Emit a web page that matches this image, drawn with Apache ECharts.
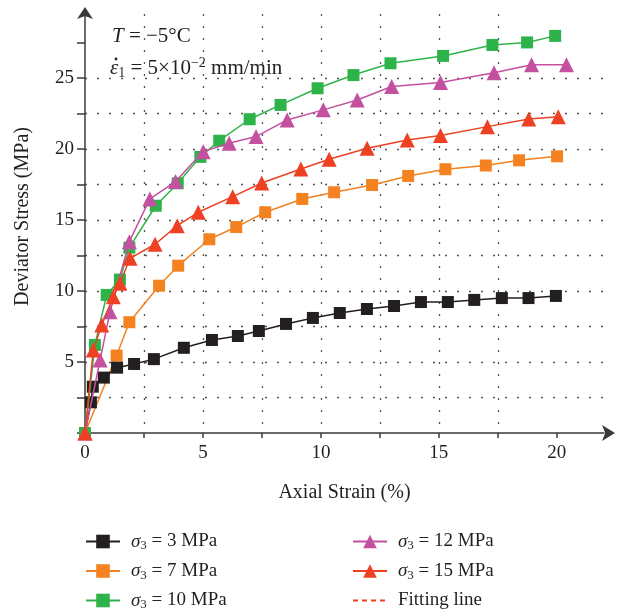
<!DOCTYPE html>
<html>
<head>
<meta charset="utf-8">
<script src="https://cdn.jsdelivr.net/npm/echarts@6/dist/echarts.min.js"></script>
<style>
html,body{margin:0;padding:0;background:#fff;}
#chart{width:618px;height:614px;}
</style>
</head>
<body>
<div id="chart"></div>
<script>
// ---- data (x: axial strain %, y: deviator stress MPa) ----
const seriesNames = ['σ3 = 3 MPa', 'σ3 = 7 MPa', 'σ3 = 10 MPa', 'σ3 = 12 MPa', 'σ3 = 15 MPa', 'Fitting line'];
const s3 = [[0,0],[0.25,2.16],[0.33,3.26],[0.8,3.9],[1.36,4.6],[2.08,4.86],[2.92,5.2],[4.19,6.0],[5.38,6.55],[6.48,6.83],[7.37,7.18],[8.52,7.68],[9.66,8.1],[10.8,8.45],[11.95,8.73],[13.1,8.94],[14.24,9.22],[15.38,9.22],[16.5,9.37],[17.67,9.5],[18.8,9.5],[19.96,9.65]];
const s7 = [[0,0],[1.34,5.45],[1.88,7.8],[3.14,10.37],[3.95,11.78],[5.27,13.64],[6.41,14.5],[7.64,15.54],[9.21,16.48],[10.56,16.95],[12.17,17.46],[13.7,18.1],[15.28,18.57],[16.99,18.83],[18.4,19.2],[20.01,19.48]];
const s10 = [[0,0],[0.42,6.2],[0.92,9.72],[1.48,10.8],[1.88,13.05],[3.0,16.0],[3.93,17.58],[4.89,19.44],[5.69,20.58],[6.98,22.09],[8.29,23.1],[9.86,24.27],[11.38,25.2],[12.95,26.03],[15.18,26.55],[17.27,27.32],[18.74,27.5],[19.93,27.96]];
const s12 = [[0,0],[0.64,5.14],[1.06,8.54],[1.88,13.47],[2.75,16.48],[3.84,17.7],[5.01,19.81],[6.11,20.4],[7.25,20.87],[8.57,22.04],[10.1,22.75],[11.54,23.45],[13.0,24.4],[15.07,24.67],[17.34,25.37],[18.93,25.92],[20.41,25.92]];
const s15 = [[0,0],[0.35,5.84],[0.71,7.6],[1.2,9.6],[1.48,10.54],[1.91,12.3],[2.97,13.29],[3.91,14.6],[4.8,15.54],[6.26,16.64],[7.49,17.6],[9.15,18.59],[10.35,19.27],[11.96,20.05],[13.66,20.63],[15.07,20.94],[17.06,21.57],[18.81,22.11],[20.06,22.27]];
const fitting = [];
const xTicks = [0,2.5,5,7.5,10,12.5,15,17.5,20];
const xLabels = [0,5,10,15,20];
const yTicks = [0,2.5,5,7.5,10,12.5,15,17.5,20,22.5,25,27.5];
const yLabels = [5,10,15,20,25];

const FONT = '"Liberation Serif", "DejaVu Serif", serif';
const TXT = '#231f20';
const AX = '#3a3a3a';

const colors = ['#231f20', '#f58220', '#2eb34b', '#c4519f', '#ee4123', '#ee4123'];
const symbols = ['rect', 'rect', 'rect', 'triangle', 'triangle', 'none'];
const sizes = [12, 12, 12, 15, 15, 0];
const datas = [s3, s7, s10, s12, s15, fitting];
const zs = [3, 2, 4, 5, 6, 1];

const series = seriesNames.map((n, i) => ({
  name: n,
  type: 'line',
  data: datas[i],
  symbol: symbols[i],
  symbolSize: sizes[i],
  z: zs[i],
  color: colors[i],
  itemStyle: {color: colors[i]},
  lineStyle: {color: colors[i], width: 1.5, type: i === 5 ? [5, 4] : 'solid'},
  emphasis: {disabled: true},
  animation: false
}));

const legendRich = {
  i: {fontFamily: FONT, fontStyle: 'italic', fontSize: 19, color: TXT, lineHeight: 22, padding: [0, 0, 0, 6]},
  s: {fontFamily: FONT, fontSize: 13, color: TXT, lineHeight: 13, verticalAlign: 'bottom'},
  n: {fontFamily: FONT, fontSize: 19, color: TXT, lineHeight: 22},
  f: {fontFamily: FONT, fontSize: 19, color: TXT, lineHeight: 22, padding: [0, 0, 0, 6]}
};
function legendFmt(name) {
  if (name.indexOf('σ3') === 0) return '{i|σ}{s|3}{n|' + name.slice(2) + '}';
  return '{f|' + name + '}';
}
const legendBase = {
  orient: 'vertical', top: 532, height: 100, itemWidth: 34, itemHeight: 17, itemGap: 9, padding: 0,
  formatter: legendFmt, textStyle: {rich: legendRich, fontFamily: FONT, fontSize: 19, color: TXT},
  selectedMode: false
};

const chart = echarts.init(document.getElementById('chart'), null, {renderer: 'canvas'});
chart.setOption({
  backgroundColor: '#fff',
  animation: false,
  grid: {left: 85, right: 14, top: 14, bottom: 181, containLabel: false},
  xAxis: {
    type: 'value', min: 0, max: 22, interval: 2.5,
    name: 'Axial Strain (%)', nameLocation: 'middle', nameGap: 50,
    nameTextStyle: {fontFamily: FONT, fontSize: 20, color: TXT},
    axisLine: {show: true, onZero: false, symbol: ['none', 'arrow'], symbolSize: [12, 13], symbolOffset: [0, 11], lineStyle: {color: AX, width: 1.5}},
    axisTick: {show: true, inside: false, length: 5, customValues: xTicks, lineStyle: {color: AX, width: 1.5}},
    axisLabel: {customValues: xLabels, fontFamily: FONT, fontSize: 19, color: TXT, margin: 11},
    splitLine: {show: true, showMinLine: false, showMaxLine: false, lineStyle: {color: '#555', width: 1.3, type: [2, 10]}}
  },
  yAxis: {
    type: 'value', min: 0, max: 29.5, interval: 2.5,
    name: 'Deviator Stress (MPa)', nameLocation: 'middle', nameGap: 52,
    nameTextStyle: {fontFamily: FONT, fontSize: 20, color: TXT, padding: [0, 0, 0, 14]},
    axisLine: {show: true, onZero: false, symbol: ['none', 'arrow'], symbolSize: [12, 12], symbolOffset: [0, 7], lineStyle: {color: AX, width: 1.5}},
    axisTick: {show: true, inside: false, length: 8, customValues: yTicks, lineStyle: {color: AX, width: 1.5}},
    axisLabel: {customValues: yLabels, fontFamily: FONT, fontSize: 19, color: TXT, margin: 11},
    splitLine: {show: true, showMinLine: false, showMaxLine: false, lineStyle: {color: '#555', width: 1.3, type: [2, 10]}}
  },
  legend: [
    Object.assign({}, legendBase, {left: 85, data: seriesNames.slice(0, 3)}),
    Object.assign({}, legendBase, {left: 352, data: [seriesNames[3], seriesNames[4], {name: seriesNames[5], itemStyle: {opacity: 0}}]})
  ],
  graphic: [
    {type: 'text', x: 112, y: 36, z: 100, style: {
      text: '{i|T}{n| = −5°C}', verticalAlign: 'middle',
      rich: {i: {fontFamily: FONT, fontStyle: 'italic', fontSize: 21, fill: TXT}, n: {fontFamily: FONT, fontSize: 21, fill: TXT}}
    }},
    {type: 'text', x: 110, y: 68, z: 100, style: {
      text: '{i|\u03B5}{s|1}{n| = 5×10}{p|−2}{n| mm/min}', verticalAlign: 'middle',
      rich: {
        i: {fontFamily: FONT, fontStyle: 'italic', fontSize: 21, fill: TXT, lineHeight: 24},
        s: {fontFamily: FONT, fontSize: 14, fill: TXT, lineHeight: 14, verticalAlign: 'bottom'},
        p: {fontFamily: FONT, fontSize: 14, fill: TXT, lineHeight: 14, verticalAlign: 'top'},
        n: {fontFamily: FONT, fontSize: 21, fill: TXT, lineHeight: 24}
      }
    }},
    {type: 'circle', z: 100, shape: {cx: 116, cy: 59, r: 1.4}, style: {fill: TXT}}
  ],
  series: series
});
</script>
</body>
</html>
